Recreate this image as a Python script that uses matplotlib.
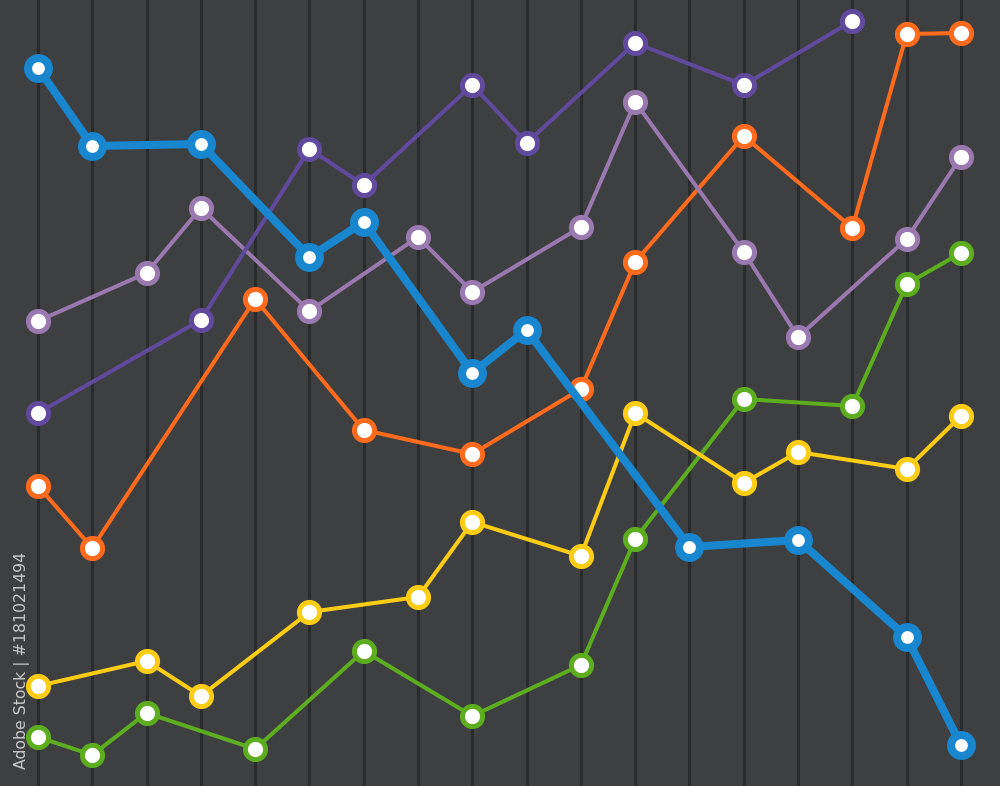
import matplotlib.pyplot as plt

# positions des colonnes (0..17) et valeurs (hauteur en px depuis le bas)
blue_x = [0, 1, 3, 5, 6, 8, 9, 12, 14, 16, 17]
blue_y = [718, 640, 642, 529, 564, 413, 456, 239, 246, 149, 41]

dpurple_x = [0, 3, 5, 6, 8, 9, 11, 13, 15]
dpurple_y = [373, 466, 637, 601, 701, 643, 743, 701, 765]

lpurple_x = [0, 2, 3, 5, 7, 8, 10, 11, 13, 14, 16, 17]
lpurple_y = [465, 513, 578, 475, 549, 494, 559, 684, 534, 449, 547, 629]

orange_x = [0, 1, 4, 6, 8, 10, 11, 13, 15, 16, 17]
orange_y = [300, 238, 487, 356, 332, 397, 524, 650, 558, 752, 753]

yellow_x = [0, 2, 3, 5, 7, 8, 10, 11, 13, 14, 16, 17]
yellow_y = [100, 125, 90, 174, 189, 264, 230, 373, 303, 334, 317, 370]

green_x = [0, 1, 2, 4, 6, 8, 10, 11, 13, 15, 16, 17]
green_y = [49, 31, 73, 37, 135, 70, 121, 247, 387, 380, 502, 533]

bg = '#3e3f41'
fig = plt.figure(figsize=(10, 7.86), dpi=100)
fig.patch.set_facecolor(bg)
ax = fig.add_axes([0, 0, 1, 1])
ax.set_facecolor(bg)

# lignes verticales
for i in range(18):
    ax.axvline(i, color='#2a2b2d', lw=2.2, zorder=1)

series = [
    (green_x, green_y, '#5cae1f', 3),
    (yellow_x, yellow_y, '#fccd14', 4),
    (orange_x, orange_y, '#ff6b1c', 5),
    (lpurple_x, lpurple_y, '#9a79b1', 6),
    (dpurple_x, dpurple_y, '#5f4a9e', 7),
]
for xs, ys, c, z in series:
    ax.plot(xs, ys, color=c, lw=2.9, marker='o', ms=14.5, mfc='white',
            mec=c, mew=3.6, zorder=z)

ax.plot(blue_x, blue_y, color='#1887d0', lw=5.8, marker='o', ms=15,
        mfc='white', mec='#1887d0', mew=5.8, zorder=8)

ax.set_xlim(-0.70, 17.72)
ax.set_ylim(0, 786)
ax.axis('off')

fig.text(0.0225, 0.021, 'Adobe Stock | #181021494', rotation=90, color='#c9c9c9',
         fontsize=11.3, ha='center', va='bottom')

fig.savefig('out.png', dpi=100, facecolor=bg)
